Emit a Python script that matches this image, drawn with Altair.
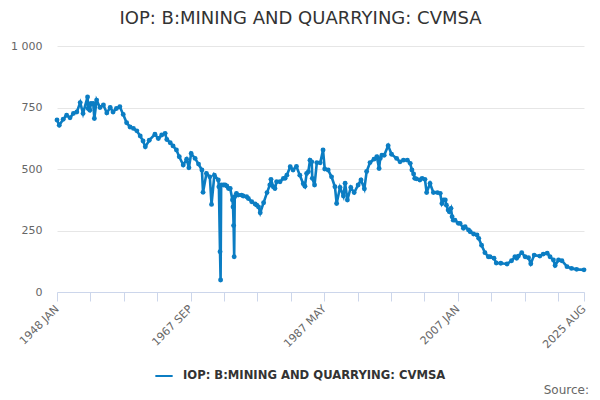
import altair as alt
import pandas as pd

SERIES = "IOP: B:MINING AND QUARRYING: CVMSA"

months = [
    "1948-01", "1948-05", "1948-12", "1949-06", "1949-12", "1950-06", "1950-12", "1951-06", "1951-11",
    "1952-07", "1952-08", "1952-11", "1953-01", "1953-05", "1953-07", "1953-11", "1954-05", "1954-11",
    "1955-05", "1955-11", "1956-04", "1956-10", "1957-04", "1957-10", "1958-04", "1958-10", "1959-04",
    "1959-10", "1960-04", "1960-09", "1961-01", "1961-08", "1962-06", "1962-12", "1963-06", "1963-12",
    "1964-03", "1964-09", "1965-02", "1965-08", "1966-01", "1966-08", "1967-02", "1967-06", "1967-10",
    "1968-05", "1968-11", "1969-05", "1969-07", "1970-01", "1970-07", "1970-10", "1971-03", "1971-10",
    "1971-11", "1972-01", "1972-02", "1972-03", "1972-07", "1972-10", "1973-01", "1973-04", "1973-07",
    "1973-11", "1973-12", "1974-01", "1974-02", "1974-03", "1974-06", "1974-09", "1975-03", "1975-06",
    "1975-12", "1976-03", "1976-09", "1977-03", "1977-06", "1977-09", "1977-12", "1978-06", "1978-12",
    "1979-05", "1979-07", "1979-11", "1980-02", "1980-05", "1980-11", "1981-05", "1981-08", "1981-11",
    "1982-05", "1982-10", "1983-04", "1983-10", "1984-04", "1984-07", "1984-10", "1985-01", "1985-04",
    "1985-07", "1985-08", "1985-12", "1986-04", "1986-10", "1987-03", "1987-06", "1987-12", "1988-06",
    "1988-12", "1989-03", "1989-09", "1990-03", "1990-06", "1990-10", "1991-04", "1991-10", "1992-05",
    "1992-10", "1993-04", "1993-08", "1994-02", "1994-09", "1995-02", "1995-06", "1995-08", "1995-11",
    "1996-03", "1996-10", "1997-04", "1998-01", "1998-07", "1999-01", "1999-08", "2000-01", "2000-04",
    "2000-07", "2000-09", "2000-12", "2001-06", "2001-10", "2002-03", "2002-06", "2002-12", "2003-06",
    "2004-01", "2004-06", "2004-09", "2004-12", "2005-03", "2005-05", "2005-08", "2005-10", "2006-01",
    "2006-03", "2006-05", "2006-08", "2007-02", "2007-05", "2007-11", "2008-02", "2008-08", "2008-11",
    "2009-05", "2009-11", "2010-02", "2010-07", "2011-01", "2011-07", "2011-10", "2012-05", "2012-09",
    "2013-05", "2014-04", "2014-12", "2015-06", "2015-09", "2015-12", "2016-06", "2016-12", "2017-06",
    "2017-10", "2018-04", "2019-02", "2019-08", "2020-03", "2020-08", "2021-02", "2021-05", "2021-11",
    "2022-05", "2023-02", "2023-10", "2024-07", "2025-08",
]

values = [
    699, 678, 702, 719, 708, 726, 732, 770, 726,
    793, 746, 739, 766, 766, 705, 780, 750, 760,
    728, 750, 732, 746, 753, 722, 688, 671, 665,
    655, 634, 614, 590, 617, 641, 624, 638, 645,
    620, 607, 594, 577, 550, 516, 540, 505, 563,
    543, 520, 496, 405, 482, 468, 356, 475, 455,
    428, 164, 49, 435, 435, 435, 431, 421, 421,
    374, 346, 270, 143, 387, 401, 394, 394, 390,
    387, 380, 367, 358, 353, 346, 322, 363, 404,
    435, 458, 428, 421, 448, 448, 462, 462, 475,
    509, 496, 510, 475, 440, 430, 482, 489, 536,
    529, 462, 435, 526, 525, 577, 500, 496, 468,
    428, 360, 425, 390, 442, 374, 425, 404, 435,
    455, 420, 490, 526, 540, 550, 502, 543, 556,
    556, 595, 560, 543, 529, 536, 536, 523, 496,
    480, 462, 460, 455, 462, 458, 404, 441, 404,
    404, 401, 360, 374, 374, 353, 333, 326, 340,
    306, 292, 292, 279, 279, 259, 265, 252, 245,
    236, 232, 218, 190, 160, 143, 143, 137, 118,
    117, 114, 127, 143, 137, 146, 160, 143, 139,
    115, 150, 146, 154, 158, 143, 130, 108, 130,
    127, 103, 96, 92, 90,
]

tick_months = [0, 59, 118, 177, 236, 295, 354, 413, 472, 531, 590, 649, 708, 767, 826, 885, 931]
label_months = [0, 236, 472, 708, 931]
label_texts = ["1948 JAN", "1967 SEP", "1987 MAY", "2007 JAN", "2025 AUG"]
y_ticks = [0, 250, 500, 750, 1000]

idx = [(int(m[:4]) - 1948) * 12 + int(m[5:]) - 1 for m in months]
df = pd.DataFrame({"m": idx, "value": values, "series": SERIES})

label_expr = "".join(
    f"datum.value == {m} ? '{t}' : " for m, t in zip(label_months, label_texts)
) + "''"

BLUE = "#0b7dc3"

line = alt.Chart(df).mark_line(
    strokeWidth=2.6,
    point=alt.OverlayMarkDef(filled=True, size=24, color=BLUE),
).encode(
    x=alt.X(
        "m:Q",
        scale=alt.Scale(domain=[0, 931], nice=False, zero=False),
        axis=alt.Axis(
            title=None,
            values=tick_months,
            labelExpr=label_expr,
            labelAngle=-45,
            labelAlign="right",
            labelBaseline="middle",
            labelPadding=6,
            labelFontSize=11,
            labelColor="#666666",
            labelFont="DejaVu Sans",
            tickSize=9,
            tickColor="#ccd6eb",
            domainColor="#ccd6eb",
            grid=False,
            labelOverlap=False,
            labelFlush=False,
        ),
    ),
    y=alt.Y(
        "value:Q",
        scale=alt.Scale(domain=[0, 1000], nice=False),
        axis=alt.Axis(
            title=None,
            values=y_ticks,
            labelExpr="replace(format(datum.value, ','), ',', ' ')",
            labelFontSize=11,
            labelColor="#666666",
            labelFont="DejaVu Sans",
            tickSize=0,
            labelPadding=15,
            domain=False,
            gridColor="#e6e6e6",
        ),
    ),
    color=alt.Color(
        "series:N",
        scale=alt.Scale(range=[BLUE]),
        legend=alt.Legend(
            title=None,
            orient="none",
            legendX=97,
            legendY=320,
            symbolType="stroke",
            symbolStrokeWidth=2,
            symbolSize=300,
            labelOffset=9,
            labelFontSize=11.6,
            labelFontWeight="bold",
            labelColor="#333333",
            labelFont="DejaVu Sans",
            labelLimit=500,
        ),
    ),
)

source = alt.Chart(pd.DataFrame({"t": ["Source:"]})).mark_text(
    align="right", baseline="middle", fontSize=12, color="#666666", font="DejaVu Sans"
).encode(text="t:N", x=alt.value(532), y=alt.value(344))

chart = alt.layer(line, source).properties(
    width=527,
    height=246,
    autosize=alt.AutoSizeParams(type="none"),
    padding={"left": 49, "top": 38, "right": 8, "bottom": 106},
    title=alt.TitleParams(
        SERIES,
        fontSize=18,
        fontWeight="normal",
        color="#333333",
        font="DejaVu Sans",
        anchor="middle",
        dx=-20,
        offset=12,
    ),
).configure_view(stroke=None)

chart.save("out.html", embed_options={"renderer": "svg", "actions": False})
